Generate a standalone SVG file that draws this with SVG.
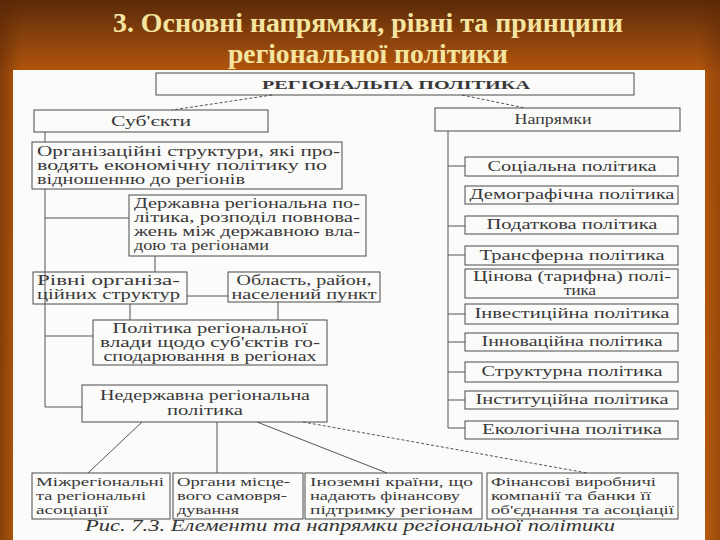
<svg xmlns="http://www.w3.org/2000/svg" width="720" height="540" viewBox="0 0 720 540">
<defs>
<linearGradient id="bg" x1="0" y1="0" x2="0" y2="1">
<stop offset="0" stop-color="#5a2a08"/>
<stop offset="0.07" stop-color="#8a420c"/>
<stop offset="0.14" stop-color="#b8580c"/>
<stop offset="1" stop-color="#c0600e"/>
</linearGradient>
<linearGradient id="side" x1="0" y1="0" x2="1" y2="0">
<stop offset="0" stop-color="#5a2606" stop-opacity="0.55"/>
<stop offset="0.03" stop-color="#5a2606" stop-opacity="0"/>
<stop offset="0.97" stop-color="#5a2606" stop-opacity="0"/>
<stop offset="1" stop-color="#5a2606" stop-opacity="0.35"/>
</linearGradient>
<style>
.box{fill:none;stroke:#4a4a4a;stroke-width:1}
.ln{fill:none;stroke:#555;stroke-width:1}
.dash{fill:none;stroke:#555;stroke-width:1;stroke-dasharray:3 2}
.t{font-family:"Liberation Serif","DejaVu Serif",serif;font-size:14px;fill:#383838}
.s{font-size:13px}
.c{text-anchor:middle}
.title{font-family:"Liberation Serif","DejaVu Serif",serif;font-size:27px;font-weight:bold;fill:#f6e5a0;text-anchor:middle}
.cap{font-family:"Liberation Serif","DejaVu Serif",serif;font-size:16px;font-style:italic;fill:#333}
</style>
</defs>
<rect x="0" y="0" width="720" height="540" fill="url(#bg)"/>
<rect x="0" y="0" width="720" height="540" fill="url(#side)"/>
<text class="title" x="368" y="32" textLength="510" lengthAdjust="spacingAndGlyphs">3. Основні напрямки, рівні та принципи</text>
<text class="title" x="368" y="63" textLength="280" lengthAdjust="spacingAndGlyphs">регіональної політики</text>
<rect x="13" y="70" width="692" height="470" fill="#fbfbfa"/>

<g id="connectors">
<path class="dash" d="M272,95 L172,110"/>
<path class="dash" d="M462,95 L525,108"/>
<path class="ln" d="M45,132 V142 M45,189 V407 H82"/>
<path class="ln" d="M45,218 H129"/>
<path class="ln" d="M155,256 V272"/>
<path class="ln" d="M187,296 H228"/>
<path class="ln" d="M130,304 V320"/>
<path class="ln" d="M278,302 V320"/>
<path class="ln" d="M45,336 H93"/>
<path class="ln" d="M142,422 L88,473"/>
<path class="ln" d="M217,422 V473"/>
<path class="ln" d="M257,422 L387,473"/>
<path class="dash" d="M303,422 L587,473"/>
<path class="ln" d="M448,131 V428 H465"/>
<path class="ln" d="M448,166 H465 M448,226 H465 M448,255 H465 M448,314 H465 M448,342 H465 M448,372 H465 M448,400 H465"/>
</g>

<g id="n-root"><rect class="box" x="156" y="73" width="478" height="22"/>
<text class="t c" x="396" y="89" style="font-size:12px;font-weight:bold" textLength="268" lengthAdjust="spacingAndGlyphs">РЕГІОНАЛЬПА ПОЛІТИКА</text></g>

<g id="n-subjects"><rect class="box" x="34" y="110" width="234" height="22"/>
<text class="t c" x="151" y="126" textLength="80" lengthAdjust="spacingAndGlyphs">Суб'єкти</text></g>

<g id="n-directions"><rect class="box" x="435" y="108" width="245" height="23"/>
<text class="t c" x="553" y="124" textLength="77" lengthAdjust="spacingAndGlyphs">Напрямки</text></g>

<g id="n-org"><rect class="box" x="32" y="142" width="310" height="47"/>
<text class="t" x="37" y="156" textLength="303" lengthAdjust="spacingAndGlyphs">Організаційні структури, які про-</text>
<text class="t" x="37" y="170" textLength="290" lengthAdjust="spacingAndGlyphs">водять економічну політику по</text>
<text class="t" x="37" y="184" textLength="208" lengthAdjust="spacingAndGlyphs">відношенню до регіонів</text></g>

<g id="n-state"><rect class="box" x="129" y="195" width="237" height="61"/>
<text class="t" x="134" y="208" textLength="226" lengthAdjust="spacingAndGlyphs">Державна регіональна по-</text>
<text class="t" x="134" y="222" textLength="226" lengthAdjust="spacingAndGlyphs">літика, розподіл повнова-</text>
<text class="t" x="134" y="236" textLength="226" lengthAdjust="spacingAndGlyphs">жень між державною вла-</text>
<text class="t" x="134" y="250" textLength="135" lengthAdjust="spacingAndGlyphs">дою та регіонами</text></g>

<g id="n-levels"><rect class="box" x="33" y="272" width="154" height="32"/>
<text class="t" x="37" y="285" textLength="143" lengthAdjust="spacingAndGlyphs">Рівні організа-</text>
<text class="t" x="37" y="299" textLength="143" lengthAdjust="spacingAndGlyphs">ційних структур</text></g>

<g id="n-area"><rect class="box" x="228" y="272" width="152" height="30"/>
<text class="t c" x="304" y="285" textLength="135" lengthAdjust="spacingAndGlyphs">Область, район,</text>
<text class="t c" x="304" y="299" textLength="145" lengthAdjust="spacingAndGlyphs">населений пункт</text></g>

<g id="n-policy"><rect class="box" x="93" y="320" width="234" height="45"/>
<text class="t c" x="210" y="333" textLength="195" lengthAdjust="spacingAndGlyphs">Політика регіональної</text>
<text class="t c" x="210" y="347" textLength="220" lengthAdjust="spacingAndGlyphs">влади щодо суб'єктів го-</text>
<text class="t c" x="210" y="361" textLength="213" lengthAdjust="spacingAndGlyphs">сподарювання в регіонах</text></g>

<g id="n-nonstate"><rect class="box" x="82" y="385" width="245" height="37"/>
<text class="t c" x="205" y="400" textLength="210" lengthAdjust="spacingAndGlyphs">Недержавна регіональна</text>
<text class="t c" x="205" y="415" textLength="76" lengthAdjust="spacingAndGlyphs">політика</text></g>

<g id="n-assoc"><rect class="box" x="32" y="473" width="138" height="46"/>
<text class="t s" x="36" y="486" textLength="128" lengthAdjust="spacingAndGlyphs">Міжрегіональні</text>
<text class="t s" x="36" y="500" textLength="110" lengthAdjust="spacingAndGlyphs">та регіональні</text>
<text class="t s" x="36" y="514" textLength="72" lengthAdjust="spacingAndGlyphs">асоціації</text></g>

<g id="n-local"><rect class="box" x="173" y="473" width="130" height="46"/>
<text class="t s" x="177" y="486" textLength="113" lengthAdjust="spacingAndGlyphs">Органи місце-</text>
<text class="t s" x="177" y="500" textLength="110" lengthAdjust="spacingAndGlyphs">вого самовря-</text>
<text class="t s" x="177" y="514" textLength="62" lengthAdjust="spacingAndGlyphs">дування</text></g>

<g id="n-foreign"><rect class="box" x="305" y="473" width="177" height="46"/>
<text class="t s" x="310" y="486" textLength="163" lengthAdjust="spacingAndGlyphs">Іноземні країни, що</text>
<text class="t s" x="310" y="500" textLength="150" lengthAdjust="spacingAndGlyphs">надають фінансову</text>
<text class="t s" x="310" y="514" textLength="163" lengthAdjust="spacingAndGlyphs">підтримку регіонам</text></g>

<g id="n-finance"><rect class="box" x="487" y="473" width="191" height="46"/>
<text class="t s" x="491" y="486" textLength="165" lengthAdjust="spacingAndGlyphs">Фінансові виробничі</text>
<text class="t s" x="491" y="500" textLength="160" lengthAdjust="spacingAndGlyphs">компанії та банки її</text>
<text class="t s" x="491" y="514" textLength="183" lengthAdjust="spacingAndGlyphs">об'єднання та асоціації</text></g>

<g id="n-social"><rect class="box" x="465" y="157" width="213" height="19"/>
<text class="t c" x="572" y="171" textLength="169" lengthAdjust="spacingAndGlyphs">Соціальна політика</text></g>
<g id="n-demo"><rect class="box" x="465" y="186" width="213" height="18"/>
<text class="t c" x="572" y="199" textLength="205" lengthAdjust="spacingAndGlyphs">Демографічна політика</text></g>
<g id="n-tax"><rect class="box" x="465" y="216" width="213" height="18"/>
<text class="t c" x="572" y="229" textLength="171" lengthAdjust="spacingAndGlyphs">Податкова політика</text></g>
<g id="n-transfer"><rect class="box" x="465" y="246" width="213" height="19"/>
<text class="t c" x="572" y="260" textLength="185" lengthAdjust="spacingAndGlyphs">Трансферна політика</text></g>
<g id="n-price"><rect class="box" x="465" y="269" width="213" height="29"/>
<text class="t c" x="572" y="281" textLength="198" lengthAdjust="spacingAndGlyphs">Цінова (тарифна) полі-</text>
<text class="t c" x="580" y="295" textLength="32" lengthAdjust="spacingAndGlyphs">тика</text></g>
<g id="n-invest"><rect class="box" x="465" y="304" width="213" height="20"/>
<text class="t c" x="572" y="318" textLength="195" lengthAdjust="spacingAndGlyphs">Інвестиційна політика</text></g>
<g id="n-innov"><rect class="box" x="465" y="333" width="213" height="18"/>
<text class="t c" x="572" y="346" textLength="181" lengthAdjust="spacingAndGlyphs">Інноваційна політика</text></g>
<g id="n-struct"><rect class="box" x="465" y="362" width="213" height="20"/>
<text class="t c" x="572" y="376" textLength="181" lengthAdjust="spacingAndGlyphs">Структурна політика</text></g>
<g id="n-inst"><rect class="box" x="465" y="391" width="213" height="18"/>
<text class="t c" x="572" y="404" textLength="193" lengthAdjust="spacingAndGlyphs">Інституційна політика</text></g>
<g id="n-eco"><rect class="box" x="465" y="421" width="213" height="18"/>
<text class="t c" x="572" y="434" textLength="180" lengthAdjust="spacingAndGlyphs">Екологічна політика</text></g>

<text class="cap" x="85" y="531" textLength="530" lengthAdjust="spacingAndGlyphs">Рис. 7.3. Елементи та напрямки регіональної політики</text>
</svg>
